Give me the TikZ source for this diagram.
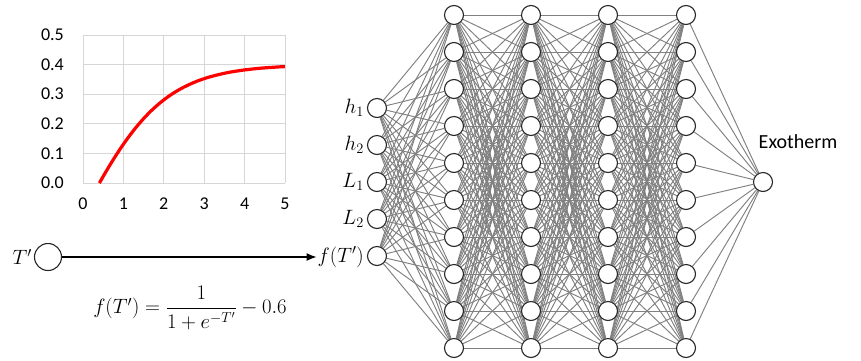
\documentclass[tikz,border=0pt]{standalone}
\usepackage{fontspec}
\setmainfont{Carlito}
\usepackage{amsmath}
\usetikzlibrary{arrows.meta,backgrounds}
\begin{document}
\begin{tikzpicture}[x=1pt,y=-1pt,
  neuron/.style={circle,draw=black!85,fill=white,line width=1.1pt,minimum size=19pt,inner sep=0pt},
  bigneuron/.style={neuron,minimum size=27pt},
  conn/.style={draw=black!50,line width=0.95pt},
  gridline/.style={draw=black!16,line width=1pt},
  ticklbl/.style={font=\fontsize{18}{20}\selectfont,inner sep=1pt},
  mathlbl/.style={font=\fontsize{21}{25}\selectfont,inner sep=1pt},
  textlbl/.style={font=\fontsize{20}{24}\selectfont,inner sep=1pt}]
\useasboundingbox (0,0) rectangle (861,360);
% ---- plot ----
\foreach \k in {0,...,5} {
  \draw[gridline] ({83+40.4*\k},35) -- ({83+40.4*\k},183);
  \node[ticklbl,anchor=north] (xt\k) at ({83+40.4*\k},197) {\k};
}
\foreach \k/\l in {0/0.0,1/0.1,2/0.2,3/0.3,4/0.4,5/0.5} {
  \draw[gridline] (83,{183-29.6*\k}) -- (285,{183-29.6*\k});
  \node[ticklbl,anchor=east] (yt\k) at (65,{183-29.6*\k}) {\l};
}
\draw[red,line width=3.2pt] plot[domain=0.405:5,samples=80,smooth] ({83+40.4*\x},{183-296*(1/(1+exp(-\x))-0.6)});
% ---- input side ----
\node[bigneuron] (tp) at (48,257) {};
\node[mathlbl,anchor=east] (tplbl) at (33,257) {$T'$};
\node[mathlbl,anchor=east] (flbl) at (365,257) {$f(T')$};
\draw[line width=1.1pt,-{Latex[length=10pt,width=8pt]}] (tp) -- (flbl.west);
\node[mathlbl] (formula) at (190,308) {$f(T')=\dfrac{1}{1+e^{-T'}}-0.6$};
% ---- inputs ----
\foreach \i/\l in {1/h_1,2/h_2,3/L_1,4/L_2} {
  \node[neuron] (in\i) at (377,{108+37*(\i-1)}) {};
  \node[mathlbl,anchor=east] (inl\i) at (365,{108+37*(\i-1)}) {$\l$};
}
\node[neuron] (in5) at (377,256) {};
% ---- hidden layers ----
\foreach \L/\X in {1/454,2/531,3/608,4/686} {
  \foreach \j in {1,...,10} {
    \node[neuron] (h\L-\j) at (\X,{15+37*(\j-1)}) {};
  }
}
% ---- output ----
\node[neuron] (out) at (763,182) {};
\node[textlbl] (exo) at (798,142) {Exotherm};
% ---- connections ----
\begin{scope}[on background layer]
  \foreach \i in {1,...,5} \foreach \j in {1,...,10} \draw[conn] (in\i) -- (h1-\j);
  \foreach \L/\M in {1/2,2/3,3/4} {
    \foreach \i in {1,...,10} \foreach \j in {1,...,10} \draw[conn] (h\L-\i) -- (h\M-\j);
  }
  \foreach \j in {1,...,10} \draw[conn] (h4-\j) -- (out);
\end{scope}
\end{tikzpicture}
\end{document}
